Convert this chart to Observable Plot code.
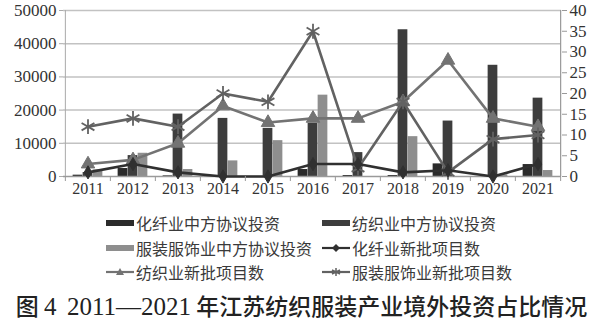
<!DOCTYPE html>
<html><head><meta charset="utf-8">
<script src="https://cdn.jsdelivr.net/npm/d3@7"></script>
<script src="https://cdn.jsdelivr.net/npm/@observablehq/plot@0.6"></script>
<style>
body{margin:0;background:#fff;width:603px;height:324px;overflow:hidden;position:relative;}
#chart{position:absolute;left:0;top:0;}
.lg{position:absolute;font-family:"Noto Sans CJK SC",sans-serif;font-size:16px;color:#3a3a3a;white-space:nowrap;display:flex;align-items:center;height:22px;line-height:22px;}
.lg svg{margin-right:2px;}
#cap{position:absolute;left:0;width:603px;top:288px;text-align:center;font-family:"Noto Sans CJK SC",sans-serif;font-size:23px;font-weight:500;color:#222;white-space:nowrap;}
#cap .n{font-family:"Liberation Serif",serif;font-size:25px;}
</style></head>
<body>
<div id="chart"></div>
<div id="legend"></div>
<div id="cap">图 <span class="n">4</span>&nbsp; <span class="n">2011—2021</span> 年江苏纺织服装产业境外投资占比情况</div>
<script>
const years = ["2011","2012","2013","2014","2015","2016","2017","2018","2019","2020","2021"];
// 中方协议投资 (left axis)
const chemFiberInvest = [400, 2400, 200, 0, 0, 2100, 300, 300, 3800, 0, 3600];
const textileInvest   = [1200, 6300, 18800, 17500, 14500, 16000, 7200, 44200, 16700, 33500, 23600];
const apparelInvest   = [2000, 7000, 2100, 4700, 10800, 24500, 0, 12000, 0, 500, 1800];
// 新批项目数 (right axis)
const chemFiberProjects = [1, 3, 1, 0, 0, 3, 3, 1, 1.5, 0, 3];
const textileProjects   = [3, 4, 8, 17, 13, 14, 14, 18, 28, 14, 12];
const apparelProjects   = [12, 14, 12, 20, 18, 35, 2, 18, 1, 9, 10];
const leftTicks = [0, 10000, 20000, 30000, 40000, 50000];
const rightTicks = [0, 5, 10, 15, 20, 25, 30, 35, 40];

const barSeries = [
  {name: "化纤业中方协议投资", values: chemFiberInvest, color: "#2b2b2b"},
  {name: "纺织业中方协议投资", values: textileInvest, color: "#3d3d3d"},
  {name: "服装服饰业中方协议投资", values: apparelInvest, color: "#8e8e8e"}
];
const lineSeries = [
  {name: "纺织业新批项目数", values: textileProjects, color: "#737373", symbol: "triangle", r: 5},
  {name: "服装服饰业新批项目数", values: apparelProjects, color: "#626262", symbol: "asterisk", r: 7},
  {name: "化纤业新批项目数", values: chemFiberProjects, color: "#303030", symbol: "diamond", r: 4}
];

const W = 603, H = 200, mL = 63, mR = 42, mT = 10, mB = 24;
const bw = (W - mL - mR) / years.length;
const ratio = leftTicks[leftTicks.length-1] / rightTicks[rightTicks.length-1];
const barW = 10;

const marks = [];
marks.push(Plot.ruleY(leftTicks.slice(1), {stroke: "#c2c2c2", strokeWidth: 1.5}));
barSeries.forEach((s, i) => {
  const left = bw/2 - 1.5*barW + barW*i;
  marks.push(Plot.barY(years.map((y, j) => ({year: y, v: s.values[j]})), {
    x: "year", y: "v", fill: s.color, insetLeft: left, insetRight: bw - left - barW
  }));
});
marks.push(Plot.ruleY([0], {stroke: "#9a9a9a", strokeWidth: 1.5}));
lineSeries.forEach(s => {
  const data = years.map((y, j) => ({year: y, v: s.values[j] * ratio}));
  marks.push(Plot.line(data, {x: "year", y: "v", stroke: s.color, strokeWidth: 2.6}));
  marks.push(Plot.dot(data, {x: "year", y: "v", symbol: s.symbol, r: s.r,
    fill: s.symbol === "asterisk" ? "none" : s.color, stroke: s.color, strokeWidth: s.symbol === "asterisk" ? 1.8 : 1}));
});
// axis frame lines
marks.push(Plot.ruleX([years[0]], {dx: -bw/2, stroke: "#aaa", strokeWidth: 1}));
marks.push(Plot.ruleX([years[years.length-1]], {dx: bw/2, stroke: "#999", strokeWidth: 1.2}));
// category boundary ticks
marks.push(Plot.ruleX(years, {dx: -bw/2, stroke: "#999", insetTop: H - mT - mB, insetBottom: -5}));
marks.push(Plot.ruleX([years[years.length-1]], {dx: bw/2, stroke: "#999", insetTop: H - mT - mB, insetBottom: -5}));
marks.push(Plot.axisX({tickSize: 0, tickPadding: 6, fontSize: 16, label: null}));
marks.push(Plot.axisY(leftTicks, {anchor: "left", tickSize: 4, tickPadding: 3, fontSize: 17, label: null, stroke: "#aaa", tickFormat: d => String(d)}));
marks.push(Plot.axisY(rightTicks.map(v => v * ratio), {anchor: "right", tickSize: 5, tickPadding: 3, fontSize: 17,
  label: null, tickFormat: d => String(d / ratio), stroke: "#999"}));

const chart = Plot.plot({
  width: W, height: H, marginLeft: mL, marginRight: mR, marginTop: mT, marginBottom: mB,
  x: {type: "band", domain: years, padding: 0},
  y: {domain: [0, 50000]},
  style: {fontFamily: "'Liberation Serif', serif", color: "#333", background: "#fff"},
  marks
});
document.getElementById("chart").appendChild(chart);

// legend
const legendItems = [
  {s: barSeries[0], kind: "bar", x: 106, y: 212},
  {s: barSeries[1], kind: "bar", x: 322, y: 212},
  {s: barSeries[2], kind: "bar", x: 106, y: 237},
  {s: lineSeries[2], kind: "line", x: 322, y: 237},
  {s: lineSeries[0], kind: "line", x: 106, y: 261},
  {s: lineSeries[1], kind: "line", x: 322, y: 261}
];
const lg = document.getElementById("legend");
legendItems.forEach(it => {
  const d = document.createElement("div");
  d.className = "lg";
  d.style.left = it.x + "px";
  d.style.top = it.y + "px";
  let sw;
  if (it.kind === "bar") {
    sw = `<svg width="28" height="10"><rect x="0" y="2" width="28" height="6" fill="${it.s.color}"/></svg>`;
  } else {
    const c = it.s.color;
    let m = "";
    if (it.s.symbol === "diamond") m = `<path d="M14,1 L18,5 L14,9 L10,5Z" fill="${c}"/>`;
    else if (it.s.symbol === "triangle") m = `<path d="M14,1 L18,8 L10,8Z" fill="${c}"/>`;
    else m = `<path d="M14,1 L14,9 M10,3 L18,7 M10,7 L18,3" stroke="${c}" stroke-width="1.5"/>`;
    sw = `<svg width="28" height="10"><line x1="0" y1="5" x2="28" y2="5" stroke="${c}" stroke-width="2.2"/>${m}</svg>`;
  }
  d.innerHTML = sw + `<span>${it.s.name}</span>`;
  lg.appendChild(d);
});
</script>
</body></html>
